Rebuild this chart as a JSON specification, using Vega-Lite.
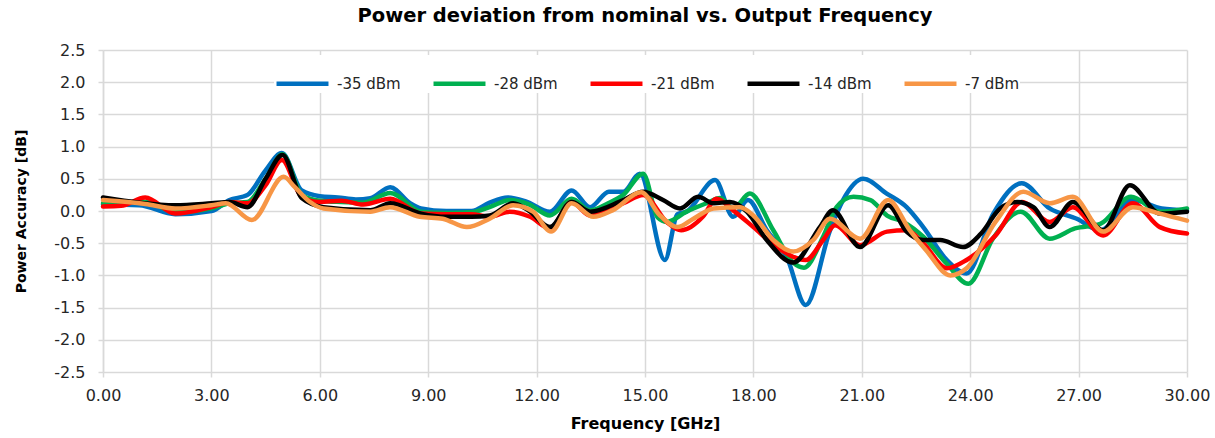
{
  "$schema": "https://vega.github.io/schema/vega-lite/v6.json",
  "width": 1084,
  "height": 322,
  "autosize": {"type": "none"},
  "padding": {"left": 103, "top": 50, "right": 28, "bottom": 66},
  "background": "white",
  "title": {
    "text": "Power deviation from nominal vs. Output Frequency",
    "font": "DejaVu Sans",
    "fontSize": 19.5,
    "fontWeight": "bold",
    "color": "#000000",
    "anchor": "middle",
    "offset": 16
  },
  "config": {
    "view": {"stroke": null},
    "font": "DejaVu Sans",
    "axis": {
      "labelFont": "DejaVu Sans",
      "labelFontSize": 16,
      "labelColor": "#262626",
      "titleFont": "DejaVu Sans",
      "titleFontSize": 16,
      "titleFontWeight": "bold",
      "titleColor": "#000000",
      "gridColor": "#d9d9d9",
      "gridWidth": 1.5,
      "tickColor": "#d9d9d9",
      "tickWidth": 1.5,
      "tickSize": 5,
      "domainColor": "#d9d9d9",
      "domainWidth": 1.5
    }
  },
  "data": {
    "values": [
      {"s": "-35 dBm", "f": 0, "v": 0.1},
      {"s": "-35 dBm", "f": 1.0, "v": 0.09},
      {"s": "-35 dBm", "f": 2.0, "v": -0.05},
      {"s": "-35 dBm", "f": 3.0, "v": 0.0},
      {"s": "-35 dBm", "f": 3.5, "v": 0.17},
      {"s": "-35 dBm", "f": 4.0, "v": 0.25},
      {"s": "-35 dBm", "f": 4.5, "v": 0.63},
      {"s": "-35 dBm", "f": 4.95, "v": 0.9},
      {"s": "-35 dBm", "f": 5.5, "v": 0.32},
      {"s": "-35 dBm", "f": 6.0, "v": 0.23},
      {"s": "-35 dBm", "f": 6.5, "v": 0.21},
      {"s": "-35 dBm", "f": 7.0, "v": 0.18},
      {"s": "-35 dBm", "f": 7.4, "v": 0.2},
      {"s": "-35 dBm", "f": 7.95, "v": 0.37},
      {"s": "-35 dBm", "f": 8.5, "v": 0.12},
      {"s": "-35 dBm", "f": 8.8, "v": 0.04},
      {"s": "-35 dBm", "f": 9.5, "v": 0.0},
      {"s": "-35 dBm", "f": 10.2, "v": 0.0},
      {"s": "-35 dBm", "f": 10.7, "v": 0.13},
      {"s": "-35 dBm", "f": 11.2, "v": 0.21},
      {"s": "-35 dBm", "f": 11.7, "v": 0.15},
      {"s": "-35 dBm", "f": 12.37, "v": -0.01},
      {"s": "-35 dBm", "f": 12.97, "v": 0.32},
      {"s": "-35 dBm", "f": 13.48, "v": 0.06},
      {"s": "-35 dBm", "f": 14.0, "v": 0.3},
      {"s": "-35 dBm", "f": 14.4, "v": 0.3},
      {"s": "-35 dBm", "f": 14.86, "v": 0.58},
      {"s": "-35 dBm", "f": 15.55, "v": -0.76},
      {"s": "-35 dBm", "f": 15.9, "v": -0.05},
      {"s": "-35 dBm", "f": 16.15, "v": -0.01},
      {"s": "-35 dBm", "f": 16.94, "v": 0.48},
      {"s": "-35 dBm", "f": 17.44, "v": -0.09},
      {"s": "-35 dBm", "f": 17.85, "v": 0.17},
      {"s": "-35 dBm", "f": 18.37, "v": -0.3},
      {"s": "-35 dBm", "f": 18.92, "v": -0.71},
      {"s": "-35 dBm", "f": 19.45, "v": -1.46},
      {"s": "-35 dBm", "f": 20.12, "v": -0.3},
      {"s": "-35 dBm", "f": 20.48, "v": 0.17},
      {"s": "-35 dBm", "f": 21.04, "v": 0.5},
      {"s": "-35 dBm", "f": 21.69, "v": 0.27},
      {"s": "-35 dBm", "f": 22.24, "v": 0.06},
      {"s": "-35 dBm", "f": 22.7, "v": -0.25},
      {"s": "-35 dBm", "f": 23.35, "v": -0.76},
      {"s": "-35 dBm", "f": 23.9, "v": -0.97},
      {"s": "-35 dBm", "f": 24.64, "v": -0.04},
      {"s": "-35 dBm", "f": 25.43, "v": 0.43},
      {"s": "-35 dBm", "f": 26.2, "v": 0.04},
      {"s": "-35 dBm", "f": 26.95, "v": -0.12},
      {"s": "-35 dBm", "f": 27.6, "v": -0.3},
      {"s": "-35 dBm", "f": 28.5, "v": 0.17},
      {"s": "-35 dBm", "f": 29.3, "v": 0.04},
      {"s": "-35 dBm", "f": 30, "v": 0.01},

      {"s": "-28 dBm", "f": 0, "v": 0.12},
      {"s": "-28 dBm", "f": 1.2, "v": 0.14},
      {"s": "-28 dBm", "f": 2.0, "v": -0.02},
      {"s": "-28 dBm", "f": 3.0, "v": 0.04},
      {"s": "-28 dBm", "f": 3.5, "v": 0.12},
      {"s": "-28 dBm", "f": 4.0, "v": 0.14},
      {"s": "-28 dBm", "f": 4.5, "v": 0.5},
      {"s": "-28 dBm", "f": 4.97, "v": 0.88},
      {"s": "-28 dBm", "f": 5.5, "v": 0.25},
      {"s": "-28 dBm", "f": 6.0, "v": 0.16},
      {"s": "-28 dBm", "f": 6.6, "v": 0.14},
      {"s": "-28 dBm", "f": 7.2, "v": 0.13},
      {"s": "-28 dBm", "f": 7.95, "v": 0.28},
      {"s": "-28 dBm", "f": 8.8, "v": -0.01},
      {"s": "-28 dBm", "f": 9.5, "v": -0.03},
      {"s": "-28 dBm", "f": 10.2, "v": -0.02},
      {"s": "-28 dBm", "f": 10.7, "v": 0.06},
      {"s": "-28 dBm", "f": 11.26, "v": 0.17},
      {"s": "-28 dBm", "f": 11.8, "v": 0.1},
      {"s": "-28 dBm", "f": 12.37, "v": -0.07},
      {"s": "-28 dBm", "f": 12.97, "v": 0.19},
      {"s": "-28 dBm", "f": 13.48, "v": 0.01},
      {"s": "-28 dBm", "f": 13.98, "v": 0.12},
      {"s": "-28 dBm", "f": 14.4, "v": 0.25},
      {"s": "-28 dBm", "f": 14.95, "v": 0.58},
      {"s": "-28 dBm", "f": 15.35, "v": -0.1},
      {"s": "-28 dBm", "f": 15.6, "v": -0.17},
      {"s": "-28 dBm", "f": 16.15, "v": -0.01},
      {"s": "-28 dBm", "f": 16.7, "v": 0.12},
      {"s": "-28 dBm", "f": 17.08, "v": 0.2},
      {"s": "-28 dBm", "f": 17.44, "v": 0.04},
      {"s": "-28 dBm", "f": 17.9, "v": 0.27},
      {"s": "-28 dBm", "f": 18.55, "v": -0.3},
      {"s": "-28 dBm", "f": 19.1, "v": -0.8},
      {"s": "-28 dBm", "f": 19.4, "v": -0.88},
      {"s": "-28 dBm", "f": 19.93, "v": -0.4},
      {"s": "-28 dBm", "f": 20.3, "v": 0.06},
      {"s": "-28 dBm", "f": 20.77, "v": 0.22},
      {"s": "-28 dBm", "f": 21.24, "v": 0.17},
      {"s": "-28 dBm", "f": 21.7, "v": -0.07},
      {"s": "-28 dBm", "f": 22.15, "v": -0.17},
      {"s": "-28 dBm", "f": 22.7, "v": -0.4},
      {"s": "-28 dBm", "f": 23.35, "v": -0.82},
      {"s": "-28 dBm", "f": 23.95, "v": -1.13},
      {"s": "-28 dBm", "f": 24.64, "v": -0.42},
      {"s": "-28 dBm", "f": 25.4, "v": -0.01},
      {"s": "-28 dBm", "f": 26.2, "v": -0.43},
      {"s": "-28 dBm", "f": 26.9, "v": -0.27},
      {"s": "-28 dBm", "f": 27.6, "v": -0.2},
      {"s": "-28 dBm", "f": 28.45, "v": 0.22},
      {"s": "-28 dBm", "f": 29.25, "v": -0.01},
      {"s": "-28 dBm", "f": 30, "v": 0.04},

      {"s": "-21 dBm", "f": 0, "v": 0.07},
      {"s": "-21 dBm", "f": 0.5, "v": 0.08},
      {"s": "-21 dBm", "f": 1.17, "v": 0.21},
      {"s": "-21 dBm", "f": 2.0, "v": -0.04},
      {"s": "-21 dBm", "f": 3.0, "v": 0.06},
      {"s": "-21 dBm", "f": 3.5, "v": 0.14},
      {"s": "-21 dBm", "f": 4.0, "v": 0.12},
      {"s": "-21 dBm", "f": 4.5, "v": 0.4},
      {"s": "-21 dBm", "f": 4.95, "v": 0.79},
      {"s": "-21 dBm", "f": 5.5, "v": 0.22},
      {"s": "-21 dBm", "f": 6.0, "v": 0.14},
      {"s": "-21 dBm", "f": 6.6, "v": 0.16},
      {"s": "-21 dBm", "f": 7.2, "v": 0.1},
      {"s": "-21 dBm", "f": 7.95, "v": 0.19},
      {"s": "-21 dBm", "f": 8.8, "v": -0.04},
      {"s": "-21 dBm", "f": 9.5, "v": -0.05},
      {"s": "-21 dBm", "f": 10.2, "v": -0.05},
      {"s": "-21 dBm", "f": 10.7, "v": -0.09},
      {"s": "-21 dBm", "f": 11.26, "v": -0.01},
      {"s": "-21 dBm", "f": 11.82, "v": -0.09},
      {"s": "-21 dBm", "f": 12.37, "v": -0.27},
      {"s": "-21 dBm", "f": 12.97, "v": 0.14},
      {"s": "-21 dBm", "f": 13.48, "v": -0.07},
      {"s": "-21 dBm", "f": 14.4, "v": 0.12},
      {"s": "-21 dBm", "f": 14.95, "v": 0.25},
      {"s": "-21 dBm", "f": 15.6, "v": -0.17},
      {"s": "-21 dBm", "f": 16.0, "v": -0.3},
      {"s": "-21 dBm", "f": 16.6, "v": -0.09},
      {"s": "-21 dBm", "f": 16.98, "v": 0.19},
      {"s": "-21 dBm", "f": 17.44, "v": 0.01},
      {"s": "-21 dBm", "f": 18.0, "v": -0.25},
      {"s": "-21 dBm", "f": 18.65, "v": -0.56},
      {"s": "-21 dBm", "f": 19.45, "v": -0.76},
      {"s": "-21 dBm", "f": 19.93, "v": -0.45},
      {"s": "-21 dBm", "f": 20.26, "v": -0.22},
      {"s": "-21 dBm", "f": 20.95, "v": -0.53},
      {"s": "-21 dBm", "f": 21.7, "v": -0.32},
      {"s": "-21 dBm", "f": 22.24, "v": -0.3},
      {"s": "-21 dBm", "f": 22.7, "v": -0.5},
      {"s": "-21 dBm", "f": 23.35, "v": -0.89},
      {"s": "-21 dBm", "f": 23.9, "v": -0.76},
      {"s": "-21 dBm", "f": 24.7, "v": -0.38},
      {"s": "-21 dBm", "f": 25.43, "v": 0.14},
      {"s": "-21 dBm", "f": 26.2, "v": -0.17},
      {"s": "-21 dBm", "f": 26.84, "v": 0.06},
      {"s": "-21 dBm", "f": 27.68, "v": -0.38},
      {"s": "-21 dBm", "f": 28.5, "v": 0.12},
      {"s": "-21 dBm", "f": 29.25, "v": -0.25},
      {"s": "-21 dBm", "f": 30, "v": -0.35},

      {"s": "-14 dBm", "f": 0, "v": 0.21},
      {"s": "-14 dBm", "f": 1.0, "v": 0.13},
      {"s": "-14 dBm", "f": 2.0, "v": 0.09},
      {"s": "-14 dBm", "f": 3.0, "v": 0.12},
      {"s": "-14 dBm", "f": 3.5, "v": 0.14},
      {"s": "-14 dBm", "f": 4.0, "v": 0.06},
      {"s": "-14 dBm", "f": 4.5, "v": 0.5},
      {"s": "-14 dBm", "f": 4.97, "v": 0.87},
      {"s": "-14 dBm", "f": 5.5, "v": 0.2},
      {"s": "-14 dBm", "f": 6.1, "v": 0.06},
      {"s": "-14 dBm", "f": 7.4, "v": 0.01},
      {"s": "-14 dBm", "f": 7.95, "v": 0.12},
      {"s": "-14 dBm", "f": 8.8, "v": -0.04},
      {"s": "-14 dBm", "f": 9.5, "v": -0.09},
      {"s": "-14 dBm", "f": 10.2, "v": -0.09},
      {"s": "-14 dBm", "f": 10.7, "v": -0.07},
      {"s": "-14 dBm", "f": 11.35, "v": 0.12},
      {"s": "-14 dBm", "f": 11.8, "v": 0.0},
      {"s": "-14 dBm", "f": 12.37, "v": -0.25},
      {"s": "-14 dBm", "f": 12.97, "v": 0.14},
      {"s": "-14 dBm", "f": 13.48, "v": -0.01},
      {"s": "-14 dBm", "f": 14.4, "v": 0.17},
      {"s": "-14 dBm", "f": 14.95, "v": 0.3},
      {"s": "-14 dBm", "f": 15.5, "v": 0.17},
      {"s": "-14 dBm", "f": 15.97, "v": 0.04},
      {"s": "-14 dBm", "f": 16.47, "v": 0.22},
      {"s": "-14 dBm", "f": 16.9, "v": 0.12},
      {"s": "-14 dBm", "f": 17.35, "v": 0.14},
      {"s": "-14 dBm", "f": 17.82, "v": -0.01},
      {"s": "-14 dBm", "f": 18.37, "v": -0.45},
      {"s": "-14 dBm", "f": 19.1, "v": -0.8},
      {"s": "-14 dBm", "f": 19.84, "v": -0.25},
      {"s": "-14 dBm", "f": 20.2, "v": 0.01},
      {"s": "-14 dBm", "f": 20.95, "v": -0.56},
      {"s": "-14 dBm", "f": 21.73, "v": 0.09},
      {"s": "-14 dBm", "f": 22.24, "v": -0.32},
      {"s": "-14 dBm", "f": 22.7, "v": -0.45},
      {"s": "-14 dBm", "f": 23.17, "v": -0.45},
      {"s": "-14 dBm", "f": 23.8, "v": -0.56},
      {"s": "-14 dBm", "f": 24.3, "v": -0.35},
      {"s": "-14 dBm", "f": 24.83, "v": 0.04},
      {"s": "-14 dBm", "f": 25.3, "v": 0.14},
      {"s": "-14 dBm", "f": 25.75, "v": 0.06},
      {"s": "-14 dBm", "f": 26.2, "v": -0.25},
      {"s": "-14 dBm", "f": 26.84, "v": 0.14},
      {"s": "-14 dBm", "f": 27.68, "v": -0.3},
      {"s": "-14 dBm", "f": 28.42, "v": 0.4},
      {"s": "-14 dBm", "f": 29.25, "v": -0.04},
      {"s": "-14 dBm", "f": 30, "v": -0.01},

      {"s": "-7 dBm", "f": 0, "v": 0.17},
      {"s": "-7 dBm", "f": 1.17, "v": 0.11},
      {"s": "-7 dBm", "f": 2.0, "v": 0.04},
      {"s": "-7 dBm", "f": 3.0, "v": 0.09},
      {"s": "-7 dBm", "f": 3.4, "v": 0.12},
      {"s": "-7 dBm", "f": 4.12, "v": -0.14},
      {"s": "-7 dBm", "f": 5.0, "v": 0.53},
      {"s": "-7 dBm", "f": 5.31, "v": 0.37},
      {"s": "-7 dBm", "f": 5.73, "v": 0.14},
      {"s": "-7 dBm", "f": 6.1, "v": 0.04},
      {"s": "-7 dBm", "f": 7.4, "v": -0.01},
      {"s": "-7 dBm", "f": 7.94, "v": 0.06},
      {"s": "-7 dBm", "f": 8.77, "v": -0.09},
      {"s": "-7 dBm", "f": 9.4, "v": -0.12},
      {"s": "-7 dBm", "f": 10.07, "v": -0.25},
      {"s": "-7 dBm", "f": 10.7, "v": -0.12},
      {"s": "-7 dBm", "f": 11.35, "v": 0.09},
      {"s": "-7 dBm", "f": 11.9, "v": -0.01},
      {"s": "-7 dBm", "f": 12.4, "v": -0.32},
      {"s": "-7 dBm", "f": 12.97, "v": 0.12},
      {"s": "-7 dBm", "f": 13.57, "v": -0.09},
      {"s": "-7 dBm", "f": 14.1, "v": 0.01},
      {"s": "-7 dBm", "f": 14.9, "v": 0.29},
      {"s": "-7 dBm", "f": 15.4, "v": -0.06},
      {"s": "-7 dBm", "f": 15.9, "v": -0.25},
      {"s": "-7 dBm", "f": 16.34, "v": -0.12},
      {"s": "-7 dBm", "f": 16.9, "v": 0.04},
      {"s": "-7 dBm", "f": 17.63, "v": 0.06},
      {"s": "-7 dBm", "f": 18.0, "v": -0.07},
      {"s": "-7 dBm", "f": 18.55, "v": -0.45},
      {"s": "-7 dBm", "f": 19.1, "v": -0.63},
      {"s": "-7 dBm", "f": 19.66, "v": -0.45},
      {"s": "-7 dBm", "f": 20.12, "v": -0.12},
      {"s": "-7 dBm", "f": 20.95, "v": -0.43},
      {"s": "-7 dBm", "f": 21.73, "v": 0.17},
      {"s": "-7 dBm", "f": 22.33, "v": -0.3},
      {"s": "-7 dBm", "f": 22.78, "v": -0.61},
      {"s": "-7 dBm", "f": 23.45, "v": -1.0},
      {"s": "-7 dBm", "f": 23.9, "v": -0.89},
      {"s": "-7 dBm", "f": 24.7, "v": -0.17},
      {"s": "-7 dBm", "f": 25.47, "v": 0.3},
      {"s": "-7 dBm", "f": 26.2, "v": 0.12},
      {"s": "-7 dBm", "f": 26.84, "v": 0.22},
      {"s": "-7 dBm", "f": 27.68, "v": -0.32},
      {"s": "-7 dBm", "f": 28.5, "v": 0.06},
      {"s": "-7 dBm", "f": 29.25, "v": -0.04},
      {"s": "-7 dBm", "f": 30, "v": -0.15}
    ]
  },
  "mark": {"type": "line", "interpolate": "monotone", "strokeWidth": 4.5, "strokeCap": "round", "strokeJoin": "round"},
  "encoding": {
    "x": {
      "field": "f",
      "type": "quantitative",
      "scale": {"domain": [0, 30], "nice": false, "zero": false},
      "axis": {
        "title": "Frequency [GHz]",
        "values": [0, 3, 6, 9, 12, 15, 18, 21, 24, 27, 30],
        "format": ".2f",
        "labelFlush": false,
        "labelPadding": 10,
        "titlePadding": 12,
        "domain": false
      }
    },
    "y": {
      "field": "v",
      "type": "quantitative",
      "scale": {"domain": [-2.5, 2.5], "nice": false},
      "axis": {
        "title": "Power Accuracy [dB]",
        "titleFontSize": 14,
        "values": [-2.5, -2, -1.5, -1, -0.5, 0, 0.5, 1, 1.5, 2, 2.5],
        "labelExpr": "replace(format(datum.value, '.1f'), '\u2212', '-')",
        "labelFlush": false,
        "labelPadding": 13,
        "titlePadding": 25
      }
    },
    "color": {
      "field": "s",
      "type": "nominal",
      "sort": ["-35 dBm", "-28 dBm", "-21 dBm", "-14 dBm", "-7 dBm"],
      "scale": {
        "domain": ["-35 dBm", "-28 dBm", "-21 dBm", "-14 dBm", "-7 dBm"],
        "range": ["#0070C0", "#00B050", "#FF0000", "#000000", "#F79646"]
      },
      "legend": {
        "title": null,
        "orient": "none",
        "direction": "horizontal",
        "legendX": 171,
        "legendY": 5,
        "symbolType": "stroke",
        "symbolSize": 2700,
        "symbolStrokeWidth": 4.5,
        "labelFont": "DejaVu Sans",
        "labelFontSize": 15,
        "labelColor": "#262626",
        "labelOffset": 6,
        "columnPadding": 23,
        "fillColor": "white"
      }
    }
  }
}
